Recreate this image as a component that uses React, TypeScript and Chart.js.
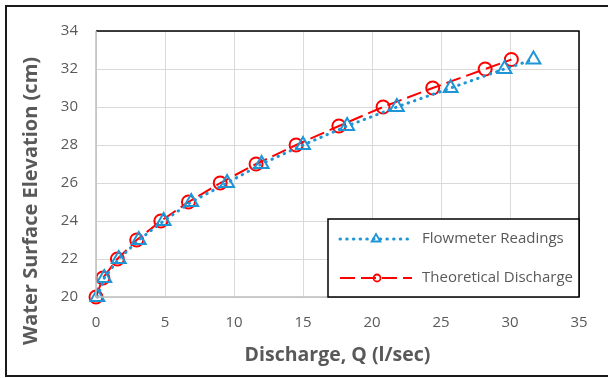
import React, { useEffect, useRef } from "react";
import { Chart, registerables } from "chart.js";

Chart.register(...registerables);

const flowQ = [0.1, 0.6, 1.65, 3.1, 4.9, 6.9, 9.5, 12.0, 15.0, 18.2, 21.8, 25.7, 29.6, 31.7];
const flowH = [20, 21, 22, 23, 24, 25, 26, 27, 28, 29, 30, 31, 32, 32.5];
const theoQ = [0, 0.5, 1.55, 2.95, 4.7, 6.7, 9.0, 11.6, 14.5, 17.6, 20.8, 24.4, 28.2, 30.1];
const theoH = [20, 21, 22, 23, 24, 25, 26, 27, 28, 29, 30, 31, 32, 32.5];
const seriesNames = ["Flowmeter Readings", "Theoretical Discharge"];
const xTitle = "Discharge, Q (l/sec)";
const yTitle = "Water Surface Elevation (cm)";

const BLUE = "#1e96d6";
const RED = "#ff0000";
const GREY_TEXT = "#595959";
const FONT = "'Open Sans', sans-serif";

const framePlugin = {
  id: "frame",
  afterDraw(chart: any) {
    const { ctx, chartArea } = chart;
    const { left, right, top, bottom } = chartArea;
    ctx.save();
    // outer frame (left, top, bottom)
    ctx.strokeStyle = "#1a1a1a";
    ctx.lineWidth = 2;
    ctx.beginPath();
    ctx.moveTo(640, 6);
    ctx.lineTo(6, 6);
    ctx.lineTo(6, 376);
    ctx.lineTo(640, 376);
    ctx.stroke();
    // plot border top/right
    ctx.strokeStyle = "#000000";
    ctx.lineWidth = 1.5;
    ctx.beginPath();
    ctx.moveTo(left, top);
    ctx.lineTo(right, top);
    ctx.lineTo(right, bottom);
    ctx.stroke();
    // axis lines left/bottom
    ctx.strokeStyle = "#bfbfbf";
    ctx.lineWidth = 1.5;
    ctx.beginPath();
    ctx.moveTo(left, top);
    ctx.lineTo(left, bottom);
    ctx.lineTo(right, bottom);
    ctx.stroke();

    // y-axis title
    ctx.save();
    ctx.translate(31, 201);
    ctx.rotate(-Math.PI / 2);
    ctx.fillStyle = GREY_TEXT;
    ctx.font = `bold 20px ${FONT}`;
    ctx.textAlign = "center";
    ctx.textBaseline = "middle";
    ctx.fillText(yTitle, 0, 0);
    ctx.restore();

    // legend box
    const bw = 251;
    const bh = 78;
    const bx = right - bw;
    const by = bottom - bh;
    ctx.fillStyle = "#ffffff";
    ctx.fillRect(bx, by, bw, bh);
    ctx.strokeStyle = "#000000";
    ctx.lineWidth = 1.5;
    ctx.strokeRect(bx, by, bw, bh);

    const y1 = by + 20;
    const y2 = by + 59;
    const lx0 = bx + 12;
    const lx1 = bx + 84;
    const mx = bx + 48;

    // blue dotted sample
    ctx.strokeStyle = BLUE;
    ctx.lineWidth = 3;
    ctx.lineCap = "round";
    ctx.setLineDash([0.5, 6.2]);
    ctx.beginPath();
    ctx.moveTo(lx0, y1);
    ctx.lineTo(lx1, y1);
    ctx.stroke();
    ctx.setLineDash([]);
    ctx.lineWidth = 1.8;
    ctx.lineCap = "butt";
    const r = 5;
    ctx.beginPath();
    ctx.moveTo(mx, y1 - r);
    ctx.lineTo(mx + r * 0.87, y1 + r * 0.5);
    ctx.lineTo(mx - r * 0.87, y1 + r * 0.5);
    ctx.closePath();
    ctx.stroke();

    // red dashed sample
    ctx.strokeStyle = RED;
    ctx.lineWidth = 2;
    ctx.setLineDash([15, 6]);
    ctx.beginPath();
    ctx.moveTo(lx0, y2);
    ctx.lineTo(lx1, y2);
    ctx.stroke();
    ctx.setLineDash([]);
    ctx.lineWidth = 1.8;
    ctx.beginPath();
    ctx.arc(mx + 1, y2, 3.5, 0, Math.PI * 2);
    ctx.stroke();

    ctx.fillStyle = GREY_TEXT;
    ctx.font = `15px ${FONT}`;
    ctx.textAlign = "left";
    ctx.textBaseline = "middle";
    ctx.fillText(seriesNames[0], bx + 94, y1);
    ctx.fillText(seriesNames[1], bx + 94, y2);
    ctx.restore();
  },
};

export default function App() {
  const ref = useRef<HTMLCanvasElement | null>(null);

  useEffect(() => {
    document.body.style.margin = "0";
    const canvas = ref.current;
    if (!canvas) return;
    const chart = new Chart(canvas, {
      type: "line",
      data: {
        datasets: [
          {
            label: seriesNames[0],
            data: flowQ.map((q, i) => ({ x: q, y: flowH[i] })),
            borderColor: BLUE,
            backgroundColor: "transparent",
            borderWidth: 3,
            borderDash: [0.5, 6.2],
            borderCapStyle: "round",
            pointStyle: "triangle",
            pointRadius: 8,
            pointBorderWidth: 2,
            pointBorderColor: BLUE,
            pointBackgroundColor: "transparent",
            tension: 0,
            clip: false,
          },
          {
            label: seriesNames[1],
            data: theoQ.map((q, i) => ({ x: q, y: theoH[i] })),
            borderColor: RED,
            backgroundColor: "transparent",
            borderWidth: 2,
            borderDash: [15, 6],
            pointStyle: "circle",
            pointRadius: 6.5,
            pointBorderWidth: 2,
            pointBorderColor: RED,
            pointBackgroundColor: "transparent",
            tension: 0,
            clip: false,
          },
        ],
      },
      options: {
        responsive: false,
        animation: false,
        devicePixelRatio: 1,
        layout: { padding: { left: 0, top: 31, right: 29, bottom: 0 } },
        plugins: { legend: { display: false }, tooltip: { enabled: false } },
        scales: {
          x: {
            type: "linear",
            min: 0,
            max: 35,
            ticks: {
              stepSize: 5,
              padding: 17,
              color: GREY_TEXT,
              font: { family: FONT, size: 15 },
            },
            grid: { color: "#d9d9d9", lineWidth: 1, drawTicks: false },
            border: { display: false },
            title: {
              display: true,
              text: xTitle,
              color: GREY_TEXT,
              font: { family: FONT, size: 19.5, weight: "bold" },
              padding: { top: 0, bottom: 11 },
            },
            afterFit: (s: any) => {
              s.height = 81;
            },
          },
          y: {
            type: "linear",
            min: 20,
            max: 34,
            ticks: {
              stepSize: 2,
              padding: 18,
              color: GREY_TEXT,
              font: { family: FONT, size: 15 },
            },
            grid: { color: "#d9d9d9", lineWidth: 1, drawTicks: false },
            border: { display: false },
            title: { display: false },
            afterFit: (s: any) => {
              s.width = 96;
            },
          },
        },
      },
      plugins: [framePlugin],
    });
    return () => chart.destroy();
  }, []);

  return (
    <div style={{ position: "absolute", left: 0, top: 0, width: 608, height: 378, background: "#fff" }}>
      <canvas ref={ref} width={608} height={378} style={{ display: "block", width: 608, height: 378 }} />
    </div>
  );
}
